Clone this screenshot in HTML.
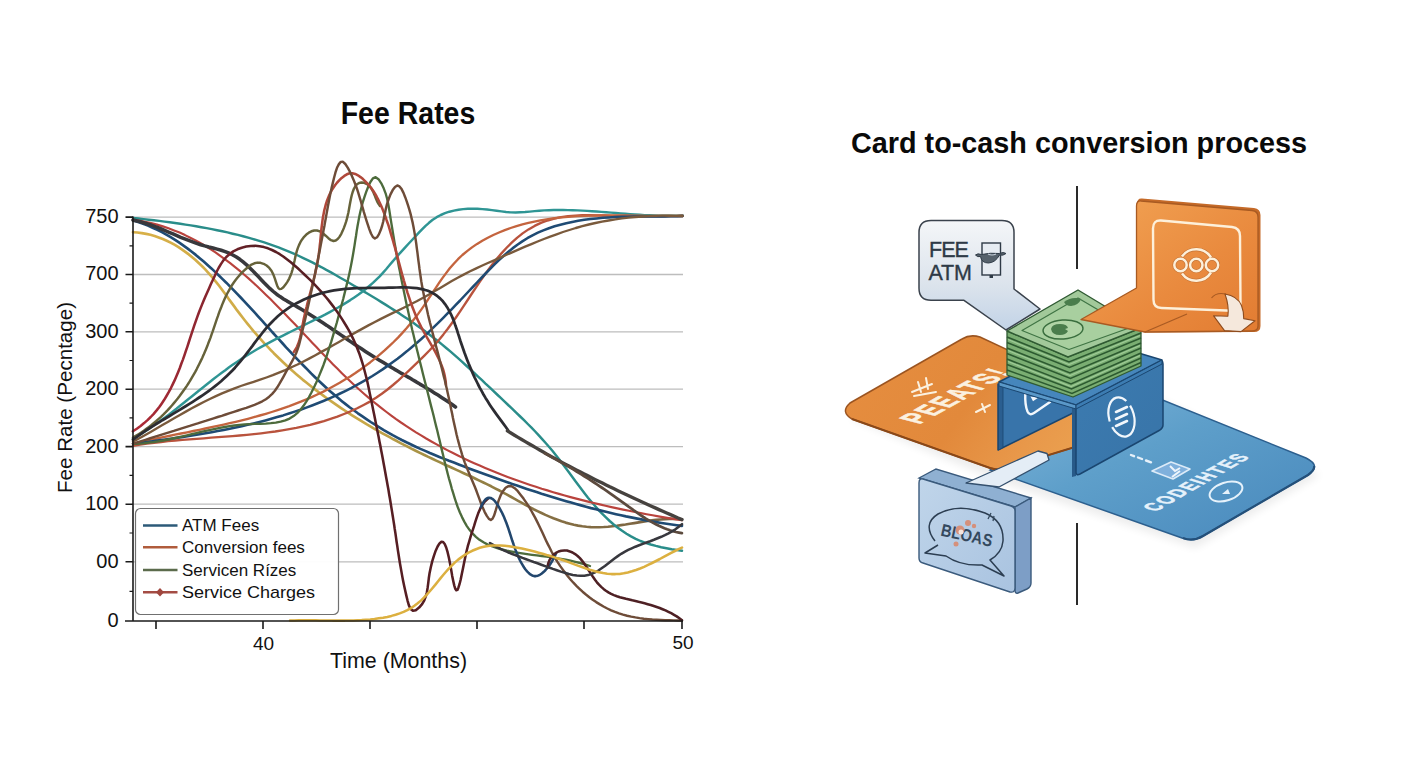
<!DOCTYPE html>
<html><head><meta charset="utf-8"><style>
html,body{margin:0;padding:0;background:#fff;width:1408px;height:768px;overflow:hidden}
svg{display:block}
text{font-family:"Liberation Sans",sans-serif}
</style></head><body>
<svg width="1408" height="768" viewBox="0 0 1408 768">
<defs>
<linearGradient id="gyel" gradientUnits="userSpaceOnUse" x1="133" y1="0" x2="682" y2="0"><stop offset="0" stop-color="#d8b048"/><stop offset="0.42" stop-color="#c8a848"/><stop offset="0.56" stop-color="#9c8a44"/><stop offset="0.75" stop-color="#867044"/><stop offset="1" stop-color="#7a6242"/></linearGradient>
<linearGradient id="gmar" gradientUnits="userSpaceOnUse" x1="133" y1="0" x2="682" y2="0"><stop offset="0" stop-color="#b02c38"/><stop offset="0.12" stop-color="#8e2630"/><stop offset="0.22" stop-color="#5a1f24"/><stop offset="1" stop-color="#4e1c20"/></linearGradient>
</defs>
<rect width="1408" height="768" fill="#fff"/>
<!-- ============ LEFT CHART ============ -->
<text transform="translate(408,124.2) scale(1,1.12)" font-size="28.5" font-weight="700" text-anchor="middle" fill="#0a0a0a">Fee Rates</text>
<!-- gridlines -->
<g stroke="#bdbdbd" stroke-width="1.3">
<line x1="133" y1="217.1" x2="683" y2="217.1"/>
<line x1="133" y1="274.5" x2="683" y2="274.5"/>
<line x1="133" y1="331.8" x2="683" y2="331.8"/>
<line x1="133" y1="389.2" x2="683" y2="389.2"/>
<line x1="133" y1="446.6" x2="683" y2="446.6"/>
<line x1="133" y1="504.2" x2="683" y2="504.2"/>
<line x1="133" y1="561.8" x2="683" y2="561.8"/>
</g>
<!-- y labels -->
<g font-size="20" text-anchor="end" fill="#111">
<text x="118.6" y="223.0">750</text>
<text x="118.6" y="280.4">700</text>
<text x="118.6" y="337.7">300</text>
<text x="118.6" y="395.1">200</text>
<text x="118.6" y="452.5">200</text>
<text x="118.6" y="510.1">100</text>
<text x="118.6" y="567.7">00</text>
<text x="118.6" y="626.7">0</text>
</g>
<text transform="translate(72,397.5) rotate(-90)" font-size="20.6" text-anchor="middle" fill="#111">Fee Rate (Pecntage)</text>
<!-- CURVES -->
<g id="curves" fill="none" stroke-width="2.2" stroke-linecap="round" stroke-linejoin="round">
<path d="M133.0 232.2L137.4 232.5L141.8 233.1L146.2 233.9L150.4 234.8L154.6 236.0L158.7 237.4L162.8 239.0L166.7 240.7L170.6 242.6L174.4 244.7L178.1 246.9L181.8 249.3L185.3 251.8L188.8 254.4L192.2 257.2L195.5 260.0L198.7 263.0L201.9 266.0L205.0 269.2L207.9 272.4L210.8 275.7L213.6 279.0L216.4 282.4L219.1 285.8L221.7 289.3L224.3 292.8L226.9 296.3L229.4 299.9L232.0 303.4L234.6 306.9L237.1 310.4L239.8 313.9L242.4 317.3L245.1 320.7L247.8 324.1L250.6 327.5L253.3 330.8L256.2 334.1L259.0 337.4L261.9 340.6L264.8 343.8L267.8 346.9L270.8 350.1L273.8 353.2L276.9 356.2L280.0 359.3L283.1 362.3L286.3 365.2L289.5 368.2L292.7 371.1L296.0 373.9L299.3 376.8L302.6 379.6L306.0 382.3L309.4 385.0L312.8 387.7L316.3 390.4L319.7 393.0L323.3 395.6L326.8 398.2L330.3 400.7L333.9 403.2L337.5 405.7L341.1 408.1L344.8 410.5L348.4 412.9L352.1 415.3L355.8 417.6L359.5 419.9L363.2 422.1L366.9 424.4L370.7 426.6L374.4 428.8L378.2 430.9L382.0 433.1L385.8 435.2L389.6 437.2L393.4 439.3L397.3 441.3L401.1 443.4L405.0 445.4L408.9 447.3L412.7 449.3L416.6 451.2L420.5 453.1L424.4 455.0L428.3 456.9L432.3 458.7L436.2 460.6L440.1 462.4L444.0 464.2L448.0 466.0L451.9 467.8L455.9 469.6L459.8 471.4L463.7 473.2L467.7 475.0L471.6 476.8L475.5 478.7L479.4 480.6L483.4 482.5L487.3 484.4L491.2 486.3L495.0 488.3L498.9 490.3L502.7 492.3L506.6 494.4L510.4 496.5L514.2 498.7L518.1 500.8L521.9 502.9L525.8 505.1L529.7 507.1L533.6 509.2L537.5 511.1L541.5 513.0L545.4 514.9L549.4 516.6L553.4 518.3L557.5 519.8L561.5 521.3L565.6 522.6L569.8 523.7L573.9 524.7L578.1 525.6L582.3 526.3L586.5 526.8L590.8 527.1L595.0 527.2L599.3 527.2L603.7 527.0L608.0 526.7L612.4 526.2L616.8 525.7L621.1 525.1L625.5 524.5L629.9 523.8L634.3 523.1L638.7 522.4L643.1 521.7L647.5 521.0L651.9 520.4L656.2 519.9L660.6 519.5L664.9 519.1L669.2 518.9L673.5 518.8L677.7 518.9L681.9 519.2" stroke="url(#gyel)" stroke-width="2.65"/>
<path d="M133.1 217.9L138.3 218.5L143.5 219.1L148.7 219.7L153.9 220.3L159.2 220.9L164.5 221.6L169.7 222.3L175.0 223.0L180.3 223.8L185.5 224.6L190.8 225.4L196.1 226.3L201.3 227.2L206.6 228.1L211.8 229.1L217.1 230.2L222.3 231.3L227.5 232.4L232.7 233.7L237.9 234.9L243.1 236.2L248.2 237.6L253.3 239.1L258.4 240.6L263.5 242.2L268.5 243.9L273.5 245.6L278.5 247.4L283.4 249.3L288.3 251.3L293.2 253.4L298.0 255.5L302.8 257.8L307.6 260.1L312.3 262.4L317.0 264.9L321.7 267.3L326.3 269.9L331.0 272.4L335.6 275.0L340.2 277.7L344.8 280.3L349.4 283.0L354.0 285.7L358.6 288.4L363.2 291.1L367.7 293.8L372.3 296.5L376.9 299.3L381.4 302.1L385.9 304.9L390.4 307.7L394.9 310.6L399.4 313.4L403.8 316.4L408.2 319.3L412.6 322.3L416.9 325.4L421.2 328.5L425.5 331.6L429.7 334.8L433.9 338.0L438.1 341.3L442.2 344.6L446.2 348.0L450.3 351.4L454.3 354.9L458.3 358.4L462.2 361.9L466.1 365.5L470.0 369.0L473.9 372.7L477.8 376.3L481.7 379.9L485.5 383.6L489.4 387.2L493.3 390.9L497.1 394.5L501.0 398.2L504.9 401.8L508.7 405.5L512.6 409.1L516.4 412.8L520.2 416.5L524.0 420.2L527.8 424.0L531.5 427.7L535.2 431.5L538.8 435.4L542.4 439.3L545.9 443.2L549.4 447.2L552.8 451.2L556.1 455.4L559.3 459.5L562.5 463.7L565.7 467.9L568.9 472.2L572.0 476.5L575.1 480.8L578.3 485.0L581.5 489.3L584.7 493.5L588.0 497.7L591.4 501.8L594.9 505.8L598.4 509.8L602.1 513.7L605.9 517.4L609.7 521.0L613.7 524.5L617.8 527.7L622.1 530.8L626.5 533.7L631.0 536.4L635.7 538.8L640.5 541.0L645.5 542.9L650.7 544.5L655.9 545.9L661.2 547.2L666.5 548.2L671.7 549.2L676.9 550.0L682.0 550.8" stroke="#2a8d8a" stroke-width="2.45"/>
<path d="M133.2 220.5L138.2 222.1L143.1 223.8L147.9 225.6L152.6 227.7L157.3 229.8L161.9 232.2L166.3 234.6L170.7 237.2L175.1 239.9L179.3 242.7L183.5 245.6L187.7 248.6L191.8 251.7L195.8 254.9L199.7 258.2L203.7 261.5L207.5 264.9L211.4 268.4L215.1 271.9L218.9 275.5L222.6 279.1L226.3 282.7L229.9 286.4L233.6 290.1L237.2 293.8L240.7 297.5L244.3 301.3L247.8 305.1L251.3 308.9L254.8 312.7L258.3 316.6L261.8 320.4L265.3 324.3L268.8 328.1L272.2 332.0L275.7 335.8L279.2 339.6L282.7 343.5L286.1 347.3L289.7 351.1L293.2 354.9L296.7 358.6L300.3 362.3L303.9 366.0L307.5 369.7L311.1 373.4L314.8 377.0L318.5 380.5L322.2 384.0L326.0 387.5L329.8 390.9L333.7 394.3L337.6 397.6L341.6 400.9L345.6 404.1L349.6 407.2L353.8 410.3L357.9 413.3L362.1 416.2L366.4 419.1L370.7 422.0L375.0 424.7L379.4 427.4L383.8 430.1L388.2 432.6L392.7 435.2L397.3 437.6L401.8 440.0L406.4 442.3L411.1 444.5L415.7 446.7L420.4 448.9L425.2 450.9L429.9 453.0L434.7 455.0L439.4 456.9L444.2 458.9L449.0 460.8L453.9 462.6L458.7 464.5L463.5 466.3L468.4 468.2L473.2 470.0L478.1 471.8L482.9 473.5L487.8 475.3L492.7 477.1L497.5 478.8L502.4 480.5L507.3 482.2L512.1 483.9L517.0 485.6L521.9 487.3L526.8 488.9L531.7 490.5L536.6 492.1L541.5 493.7L546.5 495.2L551.4 496.8L556.3 498.3L561.2 499.7L566.2 501.2L571.1 502.6L576.1 504.0L581.1 505.4L586.0 506.7L591.0 508.1L596.0 509.3L601.0 510.6L606.0 511.8L611.0 513.0L616.0 514.2L621.0 515.3L626.0 516.4L631.1 517.4L636.1 518.4L641.2 519.4L646.2 520.4L651.3 521.3L656.4 522.1L661.5 523.0L666.6 523.8L671.7 524.5L676.8 525.2L682.0 525.9" stroke="#1f4b74" stroke-width="2.65"/>
<path d="M132.7 219.6L138.9 220.5L145.0 221.7L151.1 223.1L157.0 224.6L162.8 226.4L168.5 228.3L174.1 230.4L179.6 232.6L185.0 235.1L190.3 237.7L195.6 240.4L200.7 243.3L205.8 246.3L210.8 249.4L215.8 252.7L220.6 256.1L225.4 259.6L230.2 263.2L234.8 266.8L239.5 270.6L244.0 274.5L248.5 278.4L253.0 282.5L257.4 286.5L261.8 290.7L266.1 294.9L270.4 299.1L274.7 303.4L278.9 307.7L283.2 312.0L287.4 316.4L291.5 320.7L295.7 325.1L299.8 329.5L304.0 333.9L308.1 338.3L312.2 342.7L316.4 347.1L320.5 351.4L324.7 355.8L328.9 360.1L333.1 364.4L337.3 368.6L341.6 372.9L345.8 377.0L350.2 381.2L354.5 385.2L358.9 389.3L363.4 393.2L367.9 397.1L372.5 401.0L377.1 404.7L381.8 408.4L386.5 412.0L391.3 415.6L396.1 419.1L401.0 422.5L406.0 425.8L411.0 429.1L416.0 432.3L421.1 435.4L426.2 438.5L431.4 441.5L436.6 444.4L441.9 447.3L447.2 450.1L452.5 452.8L457.9 455.5L463.3 458.1L468.7 460.7L474.2 463.2L479.7 465.6L485.2 468.0L490.8 470.3L496.3 472.6L501.9 474.8L507.6 476.9L513.2 479.0L518.9 481.0L524.5 483.0L530.2 484.9L535.9 486.8L541.7 488.7L547.4 490.4L553.2 492.2L559.0 493.9L564.7 495.5L570.5 497.1L576.3 498.6L582.2 500.1L588.0 501.6L593.8 503.0L599.7 504.4L605.5 505.8L611.4 507.1L617.3 508.4L623.1 509.6L629.0 510.8L634.9 512.0L640.7 513.1L646.6 514.2L652.5 515.3L658.4 516.4L664.2 517.4L670.1 518.4L676.0 519.4L681.9 520.3" stroke="#b9433d" stroke-width="2.15"/>
<path d="M133.0 220.0L137.2 220.9L141.3 222.0L145.4 223.2L149.4 224.5L153.4 225.9L157.4 227.4L161.3 229.0L165.2 230.6L169.1 232.3L173.0 233.9L176.9 235.6L180.7 237.3L184.7 238.9L188.6 240.4L192.6 241.9L196.6 243.4L200.6 244.7L204.7 245.9L208.8 247.0L213.0 248.0L217.1 249.1L221.2 250.3L225.2 251.6L229.1 253.2L232.8 255.0L236.4 257.0L239.8 259.3L243.1 261.9L246.3 264.6L249.4 267.4L252.4 270.4L255.3 273.5L258.3 276.6L261.2 279.7L264.1 282.8L267.1 285.8L270.1 288.7L273.3 291.5L276.6 294.2L280.0 296.6L283.5 298.9L287.1 301.1L290.8 303.2L294.5 305.3L298.1 307.4L301.8 309.5L305.4 311.7L309.0 313.9L312.6 316.2L316.1 318.5L319.7 320.8L323.2 323.1L326.8 325.4L330.3 327.8L333.8 330.2L337.3 332.5L340.8 334.9L344.3 337.3L347.8 339.7L351.3 342.1L354.8 344.4L358.3 346.8L361.9 349.1L365.4 351.4L369.0 353.7L372.6 356.0L376.2 358.2L379.8 360.4L383.4 362.6L387.0 364.8L390.7 366.9L394.3 369.1L398.0 371.2L401.6 373.4L405.3 375.5L409.0 377.6L412.6 379.8L416.3 381.9L419.9 384.1L423.6 386.2L427.2 388.4L430.8 390.6L434.4 392.9L438.0 395.1L441.5 397.4L445.1 399.8L448.6 402.1L452.1 404.5L455.5 407.0" stroke="#38383c" stroke-width="3.55"/>
<path d="M133.0 438.5L137.2 436.1L141.3 433.7L145.3 431.1L149.3 428.5L153.3 425.8L157.2 423.1L161.1 420.3L165.0 417.5L168.8 414.6L172.6 411.7L176.4 408.8L180.1 405.8L183.9 402.8L187.6 399.8L191.4 396.8L195.1 393.8L198.8 390.8L202.6 387.8L206.3 384.8L210.1 381.8L213.8 378.8L217.6 375.9L221.4 373.0L225.3 370.2L229.1 367.3L233.0 364.6L236.9 361.9L240.9 359.2L244.9 356.6L248.9 354.1L253.0 351.7L257.1 349.3L261.3 346.9L265.5 344.6L269.7 342.4L273.9 340.1L278.2 337.9L282.5 335.8L286.8 333.6L291.1 331.5L295.4 329.4L299.7 327.3L304.0 325.2L308.3 323.0L312.6 320.9L316.9 318.7L321.2 316.6L325.5 314.4L329.7 312.1L333.9 309.8L338.1 307.5L342.2 305.1L346.3 302.6L350.3 300.1L354.3 297.4L358.2 294.7L362.0 291.9L365.7 289.0L369.3 286.0L372.9 282.9L376.3 279.6L379.7 276.3L382.9 272.8L386.1 269.2L389.2 265.5L392.3 261.9L395.4 258.2L398.6 254.6L401.8 251.1L405.0 247.6L408.3 244.0L411.6 240.5L415.0 236.8L418.4 233.2L421.8 229.6L425.3 226.1L429.0 222.8L432.7 219.8L436.7 217.2L440.8 215.0L445.0 213.2L449.4 211.7L453.9 210.6L458.5 209.7L463.1 209.1L467.9 208.8L472.6 208.7L477.4 208.8L482.3 209.1L487.1 209.5L491.9 210.1L496.6 210.7L501.4 211.4L506.1 212.0L510.9 212.4L515.6 212.5L520.3 212.3L525.1 212.0L529.8 211.6L534.6 211.1L539.4 210.7L544.1 210.4L548.9 210.2L553.6 210.0L558.4 210.0L563.2 210.0L568.0 210.1L572.7 210.2L577.5 210.4L582.3 210.6L587.1 210.9L591.8 211.2L596.6 211.5L601.4 211.9L606.2 212.3L611.0 212.6L615.8 213.0L620.5 213.4L625.3 213.8L630.1 214.2L634.9 214.5L639.7 214.8L644.5 215.1L649.2 215.3L654.0 215.5L658.8 215.7L663.6 215.8L668.4 215.8L673.1 215.7L677.9 215.6L682.7 215.4" stroke="#2f9594" stroke-width="2.45"/>
<path d="M133.0 445.8L140.0 444.7L147.0 443.7L154.0 442.8L161.1 442.0L168.1 441.2L175.2 440.5L182.4 439.9L189.5 439.3L196.6 438.8L203.8 438.3L211.0 437.7L218.1 437.2L225.3 436.7L232.5 436.1L239.6 435.5L246.8 434.8L253.9 434.1L261.1 433.3L268.2 432.4L275.2 431.5L282.3 430.4L289.3 429.2L296.3 427.9L303.2 426.4L310.2 424.8L317.0 423.0L323.9 421.1L330.6 418.9L337.4 416.6L344.0 414.0L350.6 411.3L357.2 408.3L363.6 405.0L369.9 401.6L376.0 397.8L381.8 393.8L387.5 389.5L393.0 385.0L398.4 380.3L403.6 375.5L408.9 370.6L414.1 365.7L419.3 360.7L424.4 355.6L429.4 350.5L434.3 345.2L438.9 339.9L443.4 334.4L447.8 328.7L452.0 323.0L456.1 317.2L460.1 311.3L464.1 305.4L468.0 299.5L471.9 293.5L475.9 287.6L479.9 281.6L484.0 275.8L488.2 270.0L492.5 264.2L497.0 258.6L501.7 253.1L506.6 247.8L511.7 242.6L517.0 237.8L522.6 233.4L528.5 229.4L534.6 225.9L540.9 222.9L547.5 220.5L554.3 218.6L561.1 217.2L568.1 216.2L575.3 215.6L582.4 215.2L589.7 215.2L596.9 215.3L604.2 215.5L611.4 215.8L618.6 216.0L625.7 216.2L632.8 216.3L639.8 216.4L646.8 216.4L653.8 216.3L660.9 216.3L668.1 216.2L675.3 216.1L682.7 216.0" stroke="#b9533d" stroke-width="2.35"/>
<path d="M133.1 443.7L139.0 442.4L144.9 441.0L150.9 439.7L156.9 438.5L163.0 437.2L169.0 436.0L175.0 434.7L181.1 433.5L187.2 432.3L193.3 431.0L199.4 429.8L205.4 428.5L211.5 427.2L217.6 425.9L223.7 424.6L229.7 423.2L235.8 421.8L241.8 420.3L247.9 418.8L253.9 417.2L259.8 415.5L265.8 413.8L271.7 412.0L277.6 410.1L283.5 408.1L289.3 406.1L295.1 403.9L300.8 401.7L306.5 399.3L312.2 396.9L317.8 394.3L323.4 391.6L328.8 388.8L334.3 385.8L339.7 382.8L345.0 379.6L350.2 376.4L355.4 373.0L360.5 369.5L365.5 365.9L370.4 362.2L375.2 358.4L380.0 354.4L384.6 350.4L389.2 346.2L393.6 342.0L398.0 337.6L402.2 333.1L406.3 328.5L410.3 323.8L414.2 319.0L418.0 314.1L421.6 309.1L425.2 303.9L428.6 298.7L432.0 293.5L435.5 288.3L438.9 283.2L442.4 278.1L446.1 273.1L449.8 268.3L453.8 263.7L458.0 259.2L462.4 255.0L467.1 251.1L472.0 247.4L477.1 243.9L482.3 240.7L487.8 237.7L493.3 235.0L499.0 232.5L504.8 230.1L510.6 228.0L516.5 226.1L522.4 224.4L528.4 222.9L534.4 221.6L540.5 220.4L546.6 219.3L552.7 218.5L558.9 217.7L565.0 217.1L571.2 216.6L577.5 216.2L583.7 215.9L589.9 215.7L596.2 215.5L602.4 215.4L608.7 215.4L614.9 215.4L621.2 215.5L627.4 215.5L633.6 215.6L639.8 215.7L646.0 215.8L652.2 215.9L658.3 216.0L664.4 216.0L670.5 215.9L676.6 215.9L682.5 215.7" stroke="#c4643e" stroke-width="2.35"/>
<path d="M133.0 443.7L139.0 443.0L145.1 442.2L151.1 441.4L157.2 440.6L163.3 439.8L169.3 438.9L175.4 438.1L181.4 437.2L187.5 436.2L193.5 435.3L199.6 434.3L205.6 433.3L211.6 432.2L217.7 431.1L223.7 429.9L229.7 428.7L235.7 427.5L241.7 426.2L247.6 424.8L253.6 423.4L259.5 421.9L265.4 420.4L271.3 418.8L277.2 417.1L283.1 415.4L288.9 413.5L294.7 411.6L300.5 409.7L306.3 407.6L312.0 405.5L317.7 403.3L323.4 401.0L329.0 398.6L334.6 396.1L340.1 393.5L345.7 390.8L351.1 388.1L356.5 385.2L361.9 382.2L367.2 379.2L372.4 376.0L377.5 372.7L382.6 369.4L387.6 365.9L392.6 362.3L397.5 358.7L402.3 354.9L407.1 351.1L411.7 347.2L416.4 343.2L421.0 339.2L425.5 335.1L429.9 330.9L434.3 326.7L438.7 322.4L443.0 318.1L447.3 313.7L451.6 309.3L455.8 304.9L460.1 300.5L464.3 296.0L468.5 291.5L472.8 287.0L477.0 282.5L481.3 278.0L485.6 273.5L489.9 269.1L494.3 264.7L498.7 260.4L503.2 256.3L507.8 252.3L512.5 248.4L517.4 244.8L522.3 241.4L527.3 238.2L532.5 235.3L537.9 232.7L543.3 230.4L548.9 228.2L554.6 226.3L560.4 224.7L566.3 223.2L572.2 221.9L578.2 220.8L584.3 219.8L590.5 219.0L596.7 218.4L602.9 217.8L609.1 217.4L615.4 217.1L621.7 216.8L627.9 216.7L634.2 216.5L640.4 216.5L646.6 216.4L652.8 216.4L658.9 216.4L664.9 216.4L670.9 216.3L676.8 216.2L682.6 216.1" stroke="#1f4b74" stroke-width="2.55"/>
<path d="M133.0 441.7L138.9 438.5L144.8 435.2L150.6 431.9L156.5 428.5L162.4 425.1L168.2 421.7L174.1 418.3L179.9 414.9L185.8 411.6L191.8 408.3L197.7 405.1L203.7 402.0L209.8 399.0L215.9 396.1L222.0 393.4L228.2 390.8L234.5 388.3L240.8 386.0L247.2 383.9L253.7 381.8L260.1 379.7L266.4 377.5L272.8 375.2L279.0 372.7L285.2 370.1L291.4 367.3L297.5 364.5L303.5 361.5L309.5 358.4L315.4 355.2L321.3 351.9L327.2 348.7L333.1 345.3L339.0 342.0L344.8 338.6L350.7 335.2L356.6 331.9L362.5 328.6L368.4 325.4L374.4 322.2L380.4 319.1L386.4 316.1L392.5 313.1L398.6 310.2L404.7 307.2L410.7 304.2L416.7 301.2L422.7 298.0L428.6 294.7L434.4 291.3L440.2 287.9L446.0 284.4L451.8 281.0L457.7 277.7L463.6 274.6L469.6 271.5L475.7 268.6L481.8 265.8L487.9 263.0L494.1 260.3L500.3 257.6L506.5 254.8L512.7 252.1L518.9 249.4L525.1 246.7L531.4 244.1L537.6 241.5L543.9 239.0L550.2 236.6L556.6 234.3L563.0 232.0L569.4 230.0L575.8 228.0L582.3 226.2L588.8 224.5L595.4 223.0L602.0 221.7L608.6 220.5L615.3 219.4L621.9 218.4L628.6 217.6L635.4 217.0L642.1 216.5L648.8 216.1L655.6 215.8L662.4 215.7L669.2 215.7L675.9 215.8L682.7 216.0" stroke="#7a5a3c" stroke-width="2.35"/>
<path d="M133.0 444.0L138.3 443.7L143.5 443.3L148.5 442.7L153.6 442.1L158.5 441.3L163.4 440.5L168.2 439.5L173.0 438.5L177.7 437.5L182.4 436.4L187.1 435.3L191.7 434.2L196.4 433.1L201.1 431.9L205.8 430.9L210.5 429.8L215.2 428.8L219.9 427.8L224.8 427.0L229.6 426.2L234.5 425.5L239.5 424.9L244.6 424.4L249.8 424.1L255.0 423.9L260.3 423.8L265.6 423.6L270.8 423.2L275.8 422.7L280.7 421.7L285.3 420.4L289.6 418.6L293.6 416.1L297.2 413.1L300.5 409.7L303.5 405.8L306.3 401.7L308.9 397.3L311.3 392.8L313.6 388.2L315.8 383.6L317.8 379.0L319.7 374.4L321.6 369.8L323.4 365.2L325.1 360.5L326.7 355.9L328.2 351.2L329.7 346.5L331.2 341.9L332.6 337.1L334.0 332.4L335.3 327.7L336.7 323.0L338.0 318.2L339.3 313.4L340.6 308.6L341.9 303.8L343.2 299.0L344.4 294.1L345.6 289.3L346.8 284.4L348.0 279.6L349.1 274.7L350.1 269.9L351.1 265.0L352.0 260.2L352.9 255.3L353.7 250.5L354.5 245.6L355.2 240.8L356.0 236.0L356.7 231.1L357.5 226.3L358.4 221.4L359.3 216.5L360.4 211.6L361.6 206.7L362.9 201.8L364.5 196.8L366.2 191.9L368.2 186.8L370.4 182.0L372.9 178.3L375.6 177.2L378.5 179.2L381.3 183.3L383.7 188.3L385.6 193.3L387.0 198.3L388.1 203.3L389.0 208.2L389.8 213.1L390.5 218.0L391.3 222.9L392.1 227.8L392.9 232.7L393.7 237.5L394.5 242.4L395.4 247.3L396.2 252.2L397.1 257.0L398.0 261.9L398.9 266.7L399.9 271.6L400.8 276.4L401.8 281.3L402.8 286.1L403.8 291.0L404.8 295.8L405.8 300.7L406.8 305.5L407.9 310.3L409.0 315.2L410.0 320.0L411.1 324.8L412.2 329.7L413.4 334.5L414.5 339.3L415.7 344.2L416.8 349.0L418.0 353.8L419.2 358.7L420.4 363.5L421.6 368.3L422.8 373.2L424.0 378.0L425.2 382.8L426.5 387.6L427.7 392.5L428.9 397.3L430.1 402.1L431.3 406.9L432.6 411.7L433.8 416.5L434.9 421.3L436.1 426.1L437.3 430.8L438.4 435.6L439.6 440.4L440.7 445.1L441.8 449.9L443.0 454.6L444.1 459.4L445.3 464.2L446.5 468.9L447.7 473.7L449.0 478.6L450.4 483.4L451.7 488.3L453.2 493.2L454.7 498.1L456.3 503.0L458.0 507.8L459.9 512.5L462.0 517.1L464.3 521.6L466.7 525.8L469.5 529.8L472.5 533.4L475.9 536.8L479.5 539.8L483.5 542.3L487.8 544.6L492.4 546.5L497.2 548.1L502.0 549.5L507.0 550.7L512.1 551.7L517.1 552.6L522.1 553.4L527.1 554.1L532.0 554.8L536.8 555.4L541.7 556.0L546.5 556.7L551.3 557.3L556.1 558.1L560.9 558.8L565.7 559.7L570.5 560.7L575.3 561.8L580.2 563.0L585.1 564.4L590.0 566.0" stroke="#4d6b3c" stroke-width="2.35"/>
<path d="M133.0 437.6L135.8 435.9L138.5 434.2L141.2 432.5L143.8 430.7L146.4 428.8L149.0 426.9L151.5 425.0L153.9 423.0L156.3 421.0L158.7 418.9L161.0 416.8L163.3 414.6L165.5 412.4L167.7 410.1L169.8 407.8L171.9 405.5L173.9 403.1L175.9 400.7L177.9 398.3L179.8 395.8L181.6 393.3L183.4 390.8L185.2 388.2L187.0 385.6L188.7 383.0L190.3 380.3L191.9 377.6L193.5 374.9L195.1 372.1L196.6 369.3L198.0 366.5L199.4 363.7L200.8 360.9L202.2 358.0L203.5 355.1L204.7 352.2L206.0 349.2L207.2 346.3L208.3 343.3L209.5 340.3L210.6 337.3L211.6 334.3L212.7 331.3L213.7 328.3L214.8 325.2L215.8 322.2L216.8 319.2L217.9 316.2L218.9 313.2L220.0 310.2L221.2 307.3L222.3 304.4L223.5 301.5L224.8 298.6L226.1 295.8L227.5 293.0L229.0 290.3L230.5 287.6L232.1 285.0L233.8 282.5L235.6 280.0L237.6 277.5L239.6 275.2L241.7 272.9L244.0 270.6L246.4 268.5L248.9 266.4L251.5 264.6L254.4 263.3L257.4 262.6L260.5 262.8L263.6 263.8L266.6 265.5L269.3 267.9L271.6 271.0L273.4 274.6L274.8 278.4L276.0 282.1L277.1 285.4L278.2 287.8L279.6 289.1L281.3 288.9L283.4 287.2L285.5 284.6L287.5 281.6L289.2 278.6L290.5 275.6L291.6 272.6L292.5 269.6L293.3 266.6L293.9 263.6L294.6 260.5L295.2 257.4L296.0 254.2L296.8 251.1L297.8 248.1L299.0 245.1L300.4 242.2L302.1 239.4L304.1 236.8L306.3 234.6L308.8 232.7L311.4 231.3L314.2 230.5L317.0 230.5L319.9 231.4L322.8 233.2L325.7 235.7L328.4 238.2L331.0 240.2L333.5 241.0L335.7 240.5L337.7 239.0L339.6 236.7L341.3 233.8L342.8 230.6L344.1 227.4L345.2 224.3L346.2 221.4L347.0 218.4L347.7 215.5L348.4 212.4L349.0 209.2L349.6 205.7L350.3 202.1L351.0 198.5L351.8 195.0L352.8 191.7L353.9 188.8L355.3 186.3L357.0 184.3L359.1 183.0L361.5 182.5L364.2 182.8L367.0 184.0L369.4 185.9L371.4 188.6L373.1 191.6L374.5 194.9L375.8 198.2L377.1 201.3L378.5 203.9L380.0 206.0" stroke="#66623a" stroke-width="2.45"/>
<path d="M293.9 351.9L295.6 349.3L297.1 346.5L298.3 343.6L299.3 340.7L300.1 337.6L300.8 334.5L301.5 331.4L302.0 328.2L302.6 325.1L303.2 321.9L303.8 318.8L304.5 315.7L305.2 312.6L305.9 309.6L306.7 306.5L307.4 303.5L308.2 300.5L309.0 297.5L309.8 294.5L310.6 291.5L311.4 288.5L312.2 285.5L312.9 282.5L313.7 279.5L314.4 276.5L315.2 273.5L315.8 270.4L316.5 267.4L317.1 264.3L317.7 261.2L318.2 258.1L318.7 254.9L319.1 251.8L319.5 248.6L319.8 245.4L320.2 242.1L320.5 238.9L320.8 235.7L321.1 232.4L321.4 229.2L321.8 226.0L322.2 222.8L322.6 219.6L323.1 216.5L323.7 213.4L324.3 210.3L325.1 207.2L325.9 204.2L326.8 201.3L327.9 198.4L329.0 195.6L330.4 192.8L331.8 190.1L333.5 187.5L335.2 185.0L337.2 182.5L339.4 180.2L341.7 177.9L344.3 175.9L346.9 174.3L349.7 173.3L352.4 173.2L355.2 173.9L357.9 175.3L360.5 177.1L363.0 179.1L365.3 181.3L367.5 183.6L369.6 186.0L371.5 188.5L373.3 191.0L375.0 193.7L376.6 196.5L378.1 199.3L379.5 202.2L380.9 205.2L382.1 208.1L383.3 211.1L384.5 214.1L385.6 217.2L386.6 220.2L387.7 223.2L388.7 226.2L389.6 229.2L390.5 232.3L391.4 235.3L392.3 238.3L393.2 241.3L394.0 244.3L394.9 247.3L395.7 250.3L396.5 253.3L397.3 256.3L398.1 259.3L398.9 262.3L399.7 265.3L400.5 268.3L401.3 271.3L402.1 274.3L403.0 277.3L403.8 280.3L404.7 283.3L405.6 286.3L406.5 289.3L407.4 292.3L408.4 295.3L409.4 298.3L410.4 301.3L411.4 304.3L412.5 307.2L413.7 310.2L414.8 313.1L416.0 316.0L417.3 318.9L418.6 321.7L420.0 324.6L421.4 327.4L422.9 330.2L424.4 332.9L425.9 335.7L427.5 338.4L429.1 341.1L430.7 343.9L432.3 346.6L433.9 349.3L435.4 352.1L436.8 354.8L438.2 357.6L439.6 360.5L440.8 363.4L441.9 366.3L443.0 369.2L443.9 372.3L444.6 375.3L445.2 378.5L445.7 381.7L446.0 385.0" stroke="#b0483a" stroke-width="2.55"/>
<path d="M133.0 443.8L137.2 442.4L141.3 441.1L145.4 439.8L149.5 438.5L153.6 437.2L157.7 435.9L161.7 434.6L165.7 433.4L169.8 432.1L173.8 430.9L177.8 429.6L181.7 428.4L185.7 427.1L189.7 425.9L193.7 424.6L197.7 423.4L201.6 422.1L205.6 420.9L209.6 419.6L213.6 418.3L217.7 417.0L221.7 415.8L225.7 414.5L229.8 413.1L233.9 411.8L238.0 410.5L242.1 409.1L246.3 407.8L250.4 406.3L254.5 404.8L258.5 403.2L262.3 401.3L265.9 399.2L269.2 396.7L272.2 393.9L274.9 390.8L277.3 387.3L279.5 383.7L281.7 379.9L283.8 376.1L285.9 372.2L288.1 368.4L290.2 364.6L292.3 360.8L294.3 357.0L296.1 353.2L297.6 349.3L298.9 345.4L299.9 341.4L300.9 337.4L301.8 333.4L302.8 329.3L303.8 325.3L304.7 321.1L305.7 317.0L306.6 312.9L307.5 308.7L308.5 304.5L309.4 300.3L310.3 296.1L311.2 291.9L312.1 287.7L313.0 283.4L313.9 279.2L314.8 275.0L315.6 270.8L316.5 266.6L317.4 262.4L318.2 258.2L319.0 254.0L319.8 249.9L320.6 245.7L321.4 241.6L322.2 237.5L323.0 233.5L323.7 229.4L324.5 225.4L325.2 221.4L325.9 217.5L326.6 213.6L327.3 209.7L328.0 205.8L328.8 201.7L329.6 197.5L330.5 193.1L331.5 188.4L332.7 183.4L334.0 178.0L335.4 172.7L337.0 167.8L338.9 164.1L340.8 161.9L343.0 161.8L345.3 164.0L347.7 167.6L349.9 171.7L351.9 175.9L353.6 179.9L355.2 184.0L356.7 187.9L358.0 191.9L359.2 195.8L360.4 199.8L361.5 203.8L362.7 207.8L363.8 211.9L365.1 216.1L366.4 220.3L367.8 224.7L369.3 229.1L371.0 233.5L372.9 237.0L374.9 238.5L377.0 237.3L379.0 234.1L380.8 229.8L382.2 225.5L383.3 221.3L384.1 217.1L385.0 212.9L385.9 208.6L387.0 204.1L388.6 199.3L390.5 194.4L392.7 190.1L395.0 187.0L397.3 185.5L399.5 186.4L401.6 189.1L403.5 192.9L405.2 197.2L406.8 201.6L408.2 205.9L409.5 210.1L410.7 214.4L411.7 218.7L412.7 222.9L413.5 227.1L414.3 231.4L415.0 235.6L415.7 239.8L416.3 244.0L416.8 248.1L417.4 252.3L417.9 256.5L418.4 260.6L419.0 264.8L419.5 269.0L420.1 273.1L420.7 277.2L421.3 281.4L422.0 285.5L422.8 289.7L423.6 293.8L424.4 297.9L425.2 302.1L426.2 306.2L427.1 310.3L428.0 314.5L429.0 318.6L430.0 322.7L431.1 326.8L432.1 331.0L433.2 335.1L434.2 339.2L435.3 343.4L436.4 347.5L437.5 351.6L438.6 355.7L439.6 359.9L440.7 364.0L441.8 368.1L442.8 372.3L443.8 376.4L444.9 380.5L445.8 384.7L446.8 388.8L447.7 392.9L448.6 397.1L449.5 401.2L450.4 405.3L451.2 409.5L452.1 413.6L452.9 417.8L453.8 421.9L454.7 426.0L455.6 430.1L456.5 434.2L457.5 438.3L458.6 442.4L459.7 446.5L460.9 450.5L462.1 454.6L463.4 458.6L464.8 462.6L466.4 466.6L468.0 470.6L469.6 474.5L471.3 478.5L473.0 482.4L474.6 486.2L476.1 490.0L477.5 493.9L479.0 497.9L480.6 502.2L482.5 507.0L484.6 511.8L486.8 515.9L488.9 518.9L490.8 520.0L492.5 518.8L494.0 515.8L495.4 511.5L496.9 506.3L498.5 500.9L500.5 495.7L502.9 491.2L505.6 487.8L508.5 486.1L511.5 486.3L514.7 488.2L517.8 491.2L520.7 494.9L523.5 498.6L526.1 502.4L528.6 506.2L530.9 510.0L533.0 513.8L535.1 517.6L537.0 521.4L538.9 525.3L540.7 529.1L542.5 532.8L544.2 536.6L546.0 540.4L547.8 544.1L549.7 547.8L551.5 551.5L553.5 555.2L555.6 558.8L557.8 562.4L560.1 565.9L562.6 569.4L565.1 572.8L567.8 576.2L570.5 579.5L573.4 582.7L576.4 585.8L579.5 588.8L582.6 591.7L585.9 594.5L589.3 597.2L592.7 599.7L596.2 602.1L599.9 604.4L603.5 606.5L607.3 608.5L611.1 610.3L615.0 611.9L619.0 613.3L623.0 614.6L627.1 615.7L631.2 616.6L635.4 617.4L639.6 618.1L643.8 618.7L648.0 619.1L652.3 619.5L656.6 619.8L660.8 620.0L665.1 620.2L669.4 620.3L673.6 620.4L677.8 620.5L682.0 620.5" stroke="#6e4c38" stroke-width="2.45"/>
<path d="M132.9 431.3L136.8 428.7L140.6 426.0L144.1 423.1L147.5 420.1L150.7 417.0L153.7 413.8L156.6 410.4L159.3 407.0L161.8 403.4L164.2 399.8L166.5 396.0L168.7 392.2L170.8 388.3L172.7 384.4L174.6 380.4L176.4 376.3L178.1 372.2L179.8 368.0L181.3 363.8L182.9 359.6L184.4 355.3L185.8 351.1L187.3 346.8L188.7 342.5L190.1 338.2L191.5 333.9L192.9 329.6L194.3 325.4L195.8 321.1L197.3 316.9L198.8 312.8L200.4 308.6L202.0 304.6L203.7 300.5L205.4 296.4L207.2 292.4L209.0 288.4L210.8 284.3L212.7 280.3L214.6 276.2L216.5 272.0L218.6 268.0L220.9 264.1L223.4 260.4L226.3 257.0L229.6 254.0L233.3 251.4L237.4 249.3L241.7 247.7L246.2 246.6L250.8 245.9L255.2 245.8L259.6 246.2L263.9 247.1L268.0 248.3L272.0 250.0L276.0 252.0L279.8 254.2L283.6 256.7L287.2 259.5L290.8 262.3L294.3 265.3L297.8 268.3L301.1 271.4L304.4 274.5L307.7 277.6L310.9 280.7L314.0 283.9L317.0 287.1L320.0 290.4L322.9 293.6L325.8 297.0L328.6 300.4L331.3 303.9L334.0 307.4L336.6 311.0L339.1 314.6L341.6 318.4L344.0 322.2L346.3 326.0L348.6 329.9L350.7 333.9L352.7 337.9L354.6 342.0L356.4 346.0L358.0 350.2L359.6 354.3L361.0 358.5L362.3 362.7L363.6 367.0L364.7 371.2L365.8 375.5L366.9 379.8L367.9 384.2L368.8 388.5L369.7 392.9L370.6 397.2L371.5 401.6L372.4 406.0L373.3 410.4L374.2 414.8L375.1 419.2L375.9 423.6L376.8 428.0L377.7 432.4L378.6 436.8L379.4 441.2L380.3 445.6L381.1 450.0L382.0 454.4L382.8 458.8L383.6 463.2L384.4 467.6L385.2 472.0L386.0 476.4L386.8 480.8L387.6 485.2L388.4 489.6L389.1 494.0L389.9 498.4L390.6 502.7L391.3 507.1L392.0 511.4L392.7 515.8L393.4 520.1L394.1 524.5L394.7 528.8L395.4 533.1L396.0 537.4L396.6 541.7L397.3 546.1L397.9 550.4L398.6 554.8L399.3 559.2L400.0 563.6L400.8 568.1L401.6 572.6L402.4 577.1L403.3 581.7L404.3 586.4L405.3 591.1L406.4 595.9L407.6 600.8L408.9 605.4L410.6 609.0L412.9 610.8L415.8 610.2L419.1 607.6L422.1 604.1L424.3 600.4L425.8 596.4L426.9 592.3L427.6 587.9L428.2 583.3L428.8 578.3L429.6 572.9L430.8 567.2L432.2 561.4L433.9 555.8L435.7 550.7L437.6 546.5L439.5 543.4L441.4 541.8L443.1 542.0L444.7 544.0L446.2 547.5L447.6 552.2L448.9 557.8L450.1 563.8L451.2 569.9L452.2 575.9L453.3 581.2L454.3 585.6L455.3 588.8L456.3 590.3L457.4 589.9L458.4 587.7L459.5 584.2L460.7 579.5L461.8 574.1L463.0 568.2L464.2 562.2L465.4 556.4L466.6 551.0L467.8 546.2L469.1 541.8L470.3 537.7L471.5 533.7L472.8 529.9L474.1 525.9L475.3 521.8L476.7 517.6L478.2 513.3L480.0 509.2L482.1 505.2L484.8 501.6L488.0 498.5" stroke="url(#gmar)" stroke-width="2.55"/>
<path d="M480.9 507.3L482.5 503.6L484.2 501.0L485.8 499.1L487.4 498.1L489.1 497.7L490.7 498.0L492.3 498.8L493.8 500.0L495.3 501.7L496.7 503.5L498.1 505.6L499.4 507.8L500.6 510.1L501.8 512.3L502.9 514.6L503.9 516.8L504.8 519.0L505.7 521.2L506.5 523.3L507.3 525.5L508.1 527.7L508.8 529.9L509.5 532.0L510.2 534.2L510.9 536.4L511.6 538.6L512.3 540.8L513.1 543.0L513.8 545.2L514.6 547.4L515.4 549.6L516.3 551.9L517.2 554.2L518.2 556.4L519.2 558.7L520.3 561.0L521.5 563.2L522.8 565.4L524.1 567.5L525.5 569.5L527.1 571.3L528.7 573.0L530.4 574.4L532.2 575.5L534.1 576.1L536.0 576.1L537.9 575.7L539.9 574.8L541.8 573.5L543.8 571.8L545.6 570.0L547.4 567.9L549.1 565.7L550.7 563.4L552.1 561.2L553.4 558.9L554.5 556.9L555.3 555.0L556.0 553.3" stroke="#22476e" stroke-width="2.55"/>
<path d="M547.4 567.5L548.2 563.5L549.5 560.1L551.3 557.2L553.4 554.8L555.9 552.9L558.5 551.5L561.3 550.7L564.2 550.4L567.0 550.6L569.8 551.4L572.5 552.5L575.1 554.1L577.6 556.0L579.9 558.2L582.0 560.6L584.0 563.2L585.9 565.9L587.7 568.7L589.5 571.6L591.3 574.4L593.1 577.1L595.0 579.8L596.9 582.3L599.0 584.7L601.2 586.9L603.5 588.9L605.9 590.8L608.4 592.4L611.1 593.9L613.9 595.1L616.9 596.2L619.9 597.2L622.9 598.0L626.0 598.8L629.2 599.5L632.3 600.3L635.4 601.0L638.5 601.8L641.6 602.5L644.6 603.3L647.7 604.2L650.7 605.0L653.8 606.0L656.7 607.0L659.7 608.0L662.6 609.2L665.5 610.4L668.4 611.8L671.2 613.2L674.0 614.8L676.7 616.4L679.4 618.3L682.0 620.2" stroke="#4e2024" stroke-width="2.55"/>
<path d="M133.0 439.6L136.1 437.3L139.3 435.1L142.5 432.8L145.8 430.7L149.1 428.5L152.4 426.4L155.7 424.3L159.1 422.3L162.4 420.2L165.8 418.2L169.2 416.2L172.6 414.1L175.9 412.1L179.3 410.1L182.7 408.0L186.0 406.0L189.4 403.9L192.7 401.8L196.0 399.7L199.2 397.5L202.5 395.3L205.7 393.1L208.9 390.8L212.0 388.5L215.1 386.1L218.1 383.7L221.1 381.2L224.0 378.6L226.8 376.0L229.6 373.3L232.4 370.5L235.0 367.7L237.6 364.7L240.2 361.7L242.6 358.7L245.1 355.5L247.5 352.4L249.9 349.2L252.3 346.1L254.6 342.9L257.0 339.7L259.5 336.6L261.9 333.5L264.4 330.4L266.9 327.4L269.5 324.5L272.2 321.7L275.0 318.9L277.8 316.3L280.8 313.7L283.8 311.3L287.0 309.1L290.2 306.9L293.6 304.9L297.0 302.9L300.5 301.2L304.0 299.5L307.6 297.9L311.3 296.5L315.0 295.2L318.7 294.0L322.5 292.9L326.3 292.0L330.1 291.1L333.9 290.4L337.7 289.8L341.5 289.3L345.3 288.9L349.2 288.6L353.0 288.4L356.9 288.2L360.7 288.1L364.6 288.0L368.5 287.9L372.5 287.9L376.4 287.9L380.4 287.8L384.5 287.8L388.5 287.7L392.6 287.6L396.7 287.5L400.8 287.4L404.9 287.4L409.0 287.5L412.9 287.8L416.8 288.2L420.6 288.8L424.3 289.7L427.9 290.8L431.2 292.3L434.5 294.1L437.5 296.2L440.3 298.6L442.9 301.3L445.2 304.3L447.3 307.4L449.2 310.8L451.0 314.3L452.6 317.9L454.1 321.7L455.4 325.6L456.8 329.4L458.0 333.4L459.3 337.3L460.5 341.2L461.8 345.0L463.1 348.8L464.4 352.5L465.8 356.2L467.2 359.9L468.6 363.5L470.1 367.1L471.6 370.6L473.1 374.1L474.7 377.6L476.4 381.0L478.1 384.5L479.8 387.8L481.7 391.2L483.5 394.5L485.5 397.9L487.5 401.1L489.6 404.4L491.8 407.7L494.0 410.9L496.3 414.1L498.7 417.3L501.1 420.6L503.5 423.8L505.8 427.0L508.1 430.3" stroke="#2c2c32" stroke-width="2.75"/>
<path d="M507.4 430.8L510.9 433.0L514.5 435.2L518.1 437.4L521.7 439.5L525.3 441.6L528.9 443.7L532.5 445.8L536.1 447.9L539.7 450.0L543.3 452.0L547.0 454.1L550.6 456.1L554.3 458.1L557.9 460.1L561.6 462.1L565.3 464.1L568.9 466.0L572.6 468.0L576.3 469.9L580.0 471.8L583.7 473.7L587.4 475.6L591.2 477.5L594.9 479.4L598.6 481.2L602.4 483.1L606.1 484.9L609.8 486.8L613.6 488.6L617.4 490.4L621.1 492.2L624.9 494.0L628.7 495.7L632.4 497.5L636.2 499.3L640.0 501.0L643.8 502.7L647.6 504.5L651.4 506.2L655.2 507.9L659.0 509.6L662.8 511.3L666.7 513.0L670.5 514.6L674.3 516.3L678.1 518.0L682.0 519.6" stroke="#46423f" stroke-width="3.35"/>
<path d="M544.7 453.4L547.4 454.8L550.1 456.3L552.7 457.7L555.4 459.1L558.0 460.6L560.6 462.1L563.3 463.6L565.9 465.1L568.5 466.6L571.1 468.1L573.7 469.7L576.2 471.2L578.8 472.8L581.4 474.4L583.9 476.0L586.5 477.6L589.0 479.2L591.5 480.9L594.1 482.5L596.6 484.2L599.1 485.8L601.6 487.5L604.1 489.2L606.6 490.9L609.0 492.6L611.5 494.3L614.0 496.1L616.4 497.8L618.9 499.6L621.3 501.3L623.8 503.1L626.2 504.9L628.6 506.7L631.1 508.4L633.5 510.2L636.0 511.9L638.4 513.6L640.9 515.3L643.4 517.0L645.9 518.6L648.4 520.1L651.0 521.6L653.6 523.1L656.3 524.5L658.9 525.8L661.6 527.0L664.4 528.2L667.2 529.3L670.0 530.3L672.9 531.2L675.9 532.0L678.9 532.6L681.9 533.2" stroke="#5c4a3e" stroke-width="2.75"/>
<path d="M490.0 543.0L493.6 545.1L497.1 547.1L500.7 548.9L504.3 550.6L507.9 552.2L511.6 553.7L515.2 555.1L518.9 556.5L522.5 557.9L526.2 559.2L530.0 560.6L533.7 562.0L537.5 563.3L541.3 564.7L545.1 566.1L549.0 567.5L552.9 568.9L556.8 570.2L560.8 571.6L564.8 572.8L568.8 574.0L572.8 574.9L576.8 575.5L580.7 575.8L584.4 575.7L588.1 575.1L591.6 573.9L595.0 572.4L598.4 570.5L601.6 568.3L604.9 566.0L608.1 563.5L611.3 561.0L614.5 558.5L617.8 556.1L621.2 553.8L624.6 551.8L628.2 549.9L631.7 548.3L635.4 546.7L639.1 545.3L642.8 543.9L646.5 542.5L650.2 541.2L653.9 539.8L657.6 538.3L661.3 536.8L664.9 535.2L668.5 533.4L672.0 531.4L675.4 529.3L678.8 526.8L682.0 524.1" stroke="#38383e" stroke-width="2.55"/>
<path d="M290.0 620.5L294.4 620.4L298.8 620.3L303.1 620.3L307.3 620.3L311.6 620.3L315.8 620.3L320.0 620.4L324.2 620.5L328.4 620.5L332.5 620.6L336.7 620.6L340.8 620.6L345.0 620.6L349.1 620.5L353.3 620.4L357.5 620.2L361.7 620.0L365.9 619.7L370.2 619.4L374.5 618.9L378.8 618.3L383.1 617.7L387.3 616.9L391.5 615.9L395.6 614.7L399.7 613.4L403.6 611.9L407.3 610.1L411.0 608.1L414.4 605.8L417.7 603.3L420.9 600.6L423.9 597.7L426.8 594.6L429.6 591.5L432.4 588.2L435.2 584.9L437.9 581.5L440.6 578.1L443.4 574.8L446.2 571.5L449.0 568.3L452.0 565.3L455.0 562.4L458.2 559.6L461.6 557.1L465.0 554.8L468.5 552.7L472.2 550.8L476.0 549.2L479.8 547.8L483.8 546.8L487.9 546.0L492.0 545.6L496.2 545.4L500.4 545.5L504.7 545.8L509.0 546.2L513.3 546.9L517.6 547.7L521.9 548.6L526.2 549.6L530.4 550.6L534.5 551.6L538.6 552.7L542.6 553.8L546.6 555.0L550.6 556.1L554.6 557.4L558.5 558.7L562.5 560.0L566.5 561.4L570.5 562.9L574.5 564.4L578.5 565.9L582.6 567.3L586.7 568.7L590.8 570.1L594.9 571.2L599.0 572.3L603.1 573.1L607.2 573.7L611.4 574.1L615.5 574.1L619.6 573.9L623.7 573.3L627.8 572.4L631.9 571.3L636.0 570.0L640.1 568.5L644.1 566.8L648.1 564.9L652.1 563.0L656.0 561.0L659.9 559.0L663.7 556.9L667.5 554.9L671.2 552.9L674.9 551.0L678.5 549.2L682.0 547.6" stroke="#dcb040" stroke-width="2.55"/>
</g>
<!-- axes -->
<g stroke="#1a1a1a" stroke-width="1.6" fill="none">
<line x1="133" y1="216.5" x2="133" y2="621"/>
<line x1="125" y1="621" x2="683" y2="621"/>
<path d="M125.5 217.1H133M125.5 274.5H133M125.5 331.8H133M125.5 389.2H133M125.5 446.6H133M125.5 504.2H133M125.5 561.8H133"/>
<path d="M129.5 245.8H133M129.5 303.1H133M129.5 360.5H133M129.5 417.9H133M129.5 475.4H133M129.5 533.0H133M129.5 591.3H133" stroke-width="1.2"/>
<path d="M156 621V629M263 621V629M370 621V629M477 621V629M584 621V629M682 621V629"/>
</g>
<!-- legend -->
<rect x="135.5" y="508.5" width="203" height="106" rx="5" fill="#fff" fill-opacity="0.96" stroke="#707070" stroke-width="1.2"/>
<g stroke-width="2.4">
<line x1="143" y1="525.5" x2="177.5" y2="525.5" stroke="#2c5a78"/>
<line x1="143" y1="547.3" x2="177.5" y2="547.3" stroke="#b05c3c"/>
<line x1="143" y1="570" x2="177.5" y2="570" stroke="#5b6b4c"/>
<line x1="143" y1="592.3" x2="177.5" y2="592.3" stroke="#a44c44"/>
</g>
<path d="M160 588L164 592.3L160 596.6L156 592.3Z" fill="#a0463e"/>
<g font-size="17" fill="#111">
<text x="182" y="531">ATM Fees</text>
<text x="182" y="553">Conversion fees</text>
<text x="182" y="575.8">Servicen Rízes</text>
<text x="182" y="598" textLength="133" lengthAdjust="spacingAndGlyphs">Service Charges</text>
</g>
<!-- x labels -->
<g font-size="19" fill="#111" text-anchor="middle">
<text x="263.5" y="649.5">40</text>
<text x="683" y="649">50</text>
</g>
<text x="398.5" y="668" font-size="21.4" text-anchor="middle" fill="#111">Time (Months)</text>

<!-- ============ RIGHT ILLUSTRATION ============ -->
<text x="1079" y="153" font-size="28.8" font-weight="700" text-anchor="middle" fill="#0a0a0a">Card to-cash conversion process</text>
<defs>
<linearGradient id="gbcard" x1="0" y1="0" x2="1" y2="1"><stop offset="0" stop-color="#84b8dc"/><stop offset="0.45" stop-color="#5e9fca"/><stop offset="1" stop-color="#4888bc"/></linearGradient>
<linearGradient id="gocard" x1="0" y1="0" x2="1" y2="0.3"><stop offset="0" stop-color="#e68e40"/><stop offset="0.5" stop-color="#e2893b"/><stop offset="0.75" stop-color="#e8984a"/><stop offset="1" stop-color="#eca452"/></linearGradient>
<linearGradient id="gobox" x1="0" y1="0" x2="1" y2="1"><stop offset="0" stop-color="#f2a455"/><stop offset="0.6" stop-color="#e98a3e"/><stop offset="1" stop-color="#e27c32"/></linearGradient>
<linearGradient id="gbub" x1="0" y1="0" x2="0" y2="1"><stop offset="0" stop-color="#f4f6f8"/><stop offset="0.6" stop-color="#dbe3ec"/><stop offset="1" stop-color="#c2d3e7"/></linearGradient>
<linearGradient id="gtail" x1="0" y1="0" x2="1" y2="1"><stop offset="0" stop-color="#d3dfec"/><stop offset="1" stop-color="#b7cce4"/></linearGradient>
<linearGradient id="gholdR" x1="0" y1="0" x2="1" y2="1"><stop offset="0" stop-color="#3c7bb0"/><stop offset="1" stop-color="#3874a8"/></linearGradient>
<linearGradient id="gboxF" x1="0" y1="0" x2="1" y2="1"><stop offset="0" stop-color="#c0d5ea"/><stop offset="1" stop-color="#a9c3e0"/></linearGradient>
<filter id="shad" x="-20%" y="-20%" width="140%" height="140%"><feGaussianBlur stdDeviation="4"/></filter>
</defs>
<!-- vertical lines -->
<line x1="1077" y1="186" x2="1077" y2="269" stroke="#2a2a2a" stroke-width="2"/>
<line x1="1077" y1="523" x2="1077" y2="605" stroke="#2a2a2a" stroke-width="2"/>

<!-- soft shadows -->
<path d="M850 418 L975 350 L1160 400 L1320 475 L1195 548 L1000 482 Z" fill="#000" opacity="0.07" filter="url(#shad)"/>

<!-- BLUE CARD -->
<path d="M990 470 L1104 383 Q1110 379 1118 382 L1306 458 Q1322 466 1308 475 L1203 536 Q1193 542 1182 538 Z" fill="url(#gbcard)" stroke="#2c5f8e" stroke-width="1.5"/>
<path d="M1183 538 Q1193 542 1203 536 L1308 475 Q1315 470 1314 466" fill="none" stroke="#24507a" stroke-width="2.2"/>
<!-- blue card marks -->
<g fill="none" stroke="#e6f1fa" stroke-width="2.4" stroke-linecap="round">
<path d="M1131 455 l3 1.2 M1138 457.5 l4 1.5 M1146 460.5 l5 1.8"/>
</g>
<path d="M1152 471 L1171 462 L1190 469 L1173 479 Z" fill="#7fb0dc" stroke="#dcebf8" stroke-width="1.6" stroke-linejoin="round"/>
<path d="M1170 466 l5 5 l5 -3 M1172 477 l8 -6" stroke="#eef5fb" stroke-width="2" fill="none"/>
<text transform="translate(1155.5,512) rotate(-30) skewX(42)" font-size="16" font-weight="700" fill="#e6f2fb" stroke="#e6f2fb" stroke-width="0.5" letter-spacing="2">CODEIHTES</text>
<ellipse cx="1226" cy="491.5" rx="17" ry="9" transform="rotate(-18 1226 491.5)" fill="none" stroke="#e6f2fb" stroke-width="2"/>
<path d="M1222 494 l6 -5 l2 5z" fill="#e6f2fb"/>

<!-- ORANGE CARD -->
<path d="M850 403 L962 339 Q970 334 980 337 L1160 421 L1006 468 Q999 471 990 468 L852 419 Q840 412 850 403 Z" fill="url(#gocard)" stroke="#9b5420" stroke-width="1.5"/>
<path d="M852 419 L990 468 Q999 471 1006 468 L1160 421" fill="none" stroke="#8a4818" stroke-width="2"/>
<text transform="translate(919,424.5) rotate(-29) skewX(46)" font-size="22" font-weight="700" fill="#fbf1e0" stroke="#fbf1e0" stroke-width="0.6" letter-spacing="2">PEEATS!</text>
<g fill="none" stroke="#fbf1e0" stroke-width="2" stroke-linecap="round">
<path d="M912 392 l20 -8 M918 382 l3 10 M926 378 l2 11 M914 396 l22 -4"/>
<path d="M976 412 l14 -7 M982 404 l3 8"/>
</g>

<!-- BOTTOM BOX -->
<path d="M919 478 L936 469 L1031 498 L1015 507 Z" fill="#8fb0d2" stroke="#3a5a7c" stroke-width="1.4"/>
<path d="M1015 507 L1031 498 L1031 583 Q1031 587 1027 589 L1018 593 Q1015 594 1015 590 Z" fill="#7d9ec6" stroke="#3a5a7c" stroke-width="1.4"/>
<path d="M923 479 L1011 506 Q1015 507 1015 511 L1015 588 Q1015 593 1010 592 L923 563 Q919 562 919 558 L919 483 Q919 478 923 479 Z" fill="url(#gboxF)" stroke="#3a5a7c" stroke-width="1.4"/>
<!-- bubble outline inside box -->
<path d="M935 541 Q922 524 938 514 Q958 503 985 513 Q1004 521 1003 541 Q1002 553 990 560 L1004 576 L982 565 Q960 566 946 556 L925 553 L938 545" fill="none" stroke="#2c3e52" stroke-width="1.5" stroke-linejoin="round"/>
<text transform="translate(940,535.5) rotate(12.5) scale(0.92,1.08)" font-size="16" font-weight="700" fill="#34495e" letter-spacing="0.2">BLOAS</text>
<g fill="#d98a70" opacity="0.9"><circle cx="960" cy="530" r="4.5"/><circle cx="968" cy="523" r="3"/><circle cx="956" cy="544" r="2.5"/><circle cx="974" cy="526" r="2.2"/></g>
<circle cx="961" cy="532" r="2.5" fill="#f4e6de"/>
<path d="M988 519 l3 -6 M993 521 l1 -5" stroke="#34495e" stroke-width="1.3"/>
<!-- tail from box to card -->
<path d="M966 483 L1038 451 L1047 453.5 L1049 460 L999 487 Z" fill="#e4edf6" stroke="#34506e" stroke-width="1.3" stroke-linejoin="round"/>

<!-- HOLDER -->
<!-- left wall (inner face) -->
<path d="M998 384 L1075 407 L1075 412 L998 450 Z" fill="#3874aa" stroke="#1a4670" stroke-width="1.5" stroke-linejoin="round"/>
<path d="M998.5 384 L1003 385.5 L1003 447.5 L998.5 450 Z" fill="#2a5e90" stroke="#1a4670" stroke-width="0.8"/>
<path d="M1025.3 393.2 Q1024.8 405 1027.5 411.5 Q1029.5 416 1034 413 L1050 402" fill="none" stroke="#f2f7fc" stroke-width="2.4" stroke-linecap="round"/>
<path d="M1030.5 396.6 L1038.5 397.4 L1033 401.2 Z" fill="#f2f7fc"/>
<!-- right wall -->
<path d="M1072 407 L1076 405 L1076 476 L1072 477 Z" fill="#285a88"/>
<path d="M1076 406 L1158 361 Q1163 359 1163 364 L1163 425 Q1163 428 1160 430 L1080 474 Q1076 476 1076 472 Z" fill="url(#gholdR)" stroke="#1a4670" stroke-width="1.5"/>
<ellipse cx="1121.5" cy="417" rx="12.5" ry="20" transform="rotate(-15 1121.5 417)" fill="none" stroke="#f2f7fc" stroke-width="2.2" stroke-dasharray="44 6 38 6"/>
<g stroke="#f2f7fc" stroke-width="2.6" stroke-linecap="round"><path d="M1116 412 l11 -5 M1116 419 l11 -5 M1116 426 l11 -5"/></g>
<!-- top slab -->
<path d="M999 382 L1085 337 L1162 360 L1076 405 Z" fill="#4686bc" stroke="#1a4670" stroke-width="1.5" stroke-linejoin="round"/>
<path d="M999 382 L1076 405 L1076 409 L999 386 Z" fill="#5a98c8" stroke="#1a4670" stroke-width="1"/>
<path d="M1076 405 L1162 360 L1162 364 L1076 409 Z" fill="#3c7cb2" stroke="#1a4670" stroke-width="1"/>

<!-- MONEY STACK -->
<g stroke="#2f5a32" stroke-width="1.3" stroke-linejoin="round">
<path d="M1007 331 L1068 357 L1141 328 L1141 366 L1073 397 L1007 375 Z" fill="#7aae72"/>
</g>
<g fill="none" stroke="#2c5a30" stroke-width="1.6">
<path d="M1007 337 L1069 362 L1141 333"/>
<path d="M1007 342.5 L1069.5 367.5 L1141 338"/>
<path d="M1007 348 L1070 373 L1141 343"/>
<path d="M1007 353.5 L1070.5 378.5 L1141 348"/>
<path d="M1007 359 L1071 384 L1141 353"/>
<path d="M1007 364.5 L1071.5 389 L1141 358"/>
<path d="M1007 370 L1072 393.5 L1141 362.5"/>
</g>
<g fill="none" stroke="#a8d2a0" stroke-width="1.2" opacity="0.8">
<path d="M1008 339.5 L1069 364.5 L1140 335.5"/>
<path d="M1008 350.5 L1070 375.5 L1140 345.5"/>
<path d="M1008 361.5 L1071 386.5 L1140 355.5"/>
</g>
<path d="M1007 331 L1078 290 L1141 328 L1068 357 Z" fill="#a2c99a" stroke="#2f5a32" stroke-width="1.4" stroke-linejoin="round"/>
<path d="M1022 330.5 L1078 298 L1129 328 L1069 349.5 Z" fill="#a8cf9f" stroke="#3f7444" stroke-width="1.2" stroke-linejoin="round"/>
<ellipse cx="1063" cy="329.5" rx="20" ry="9.5" transform="rotate(-4 1063 329.5)" fill="#b0d4a6" stroke="#3a6e3e" stroke-width="1.5"/>
<path d="M1051 329 q1 -5 9 -5 q7 0 8 4 l-3 1 l3 2 q-2 4 -8 4 q-8 0 -9 -6z" fill="#4a7d4c"/>
<path d="M1064 302 q8 -6 17 -3 q-2 6 -10 7 q-5 0 -7 -4z" fill="#4a7d4c"/>

<!-- FEE ATM BUBBLE -->
<path d="M931 220.5 L1002 220.5 Q1014 220.5 1014 232.5 L1014 289 L1040 309 L1006 330 L964 300.3 L931 300.3 Q919 300.3 919 288.3 L919 232.5 Q919 220.5 931 220.5 Z" fill="url(#gbub)" stroke="#3a424c" stroke-width="1.5" stroke-linejoin="round"/>
<g font-size="21.5" fill="#2e3a46" stroke="#2e3a46" stroke-width="0.35">
<text x="929" y="256.5" letter-spacing="-1">FEE</text>
<text x="928.5" y="280" letter-spacing="-0.2">ATM</text>
</g>
<rect x="982" y="243" width="18.5" height="32" fill="#e6ecf2" stroke="#2e3a46" stroke-width="1.4"/>
<path d="M975.5 255 q2 -2 6 -0.5 q9 -2 18 -1 q4 -2 6.5 0 q-3 2.5 -6.5 1.5 q-4 7.5 -11 8 q-7 0 -8 -6.5 q-3 1 -5 -1.5z" fill="#56626c" stroke="#2e3a46" stroke-width="1"/>
<path d="M988 254 q4 2 8 0" stroke="#c8d2dc" stroke-width="1.2" fill="none"/>
<rect x="989.5" y="275" width="3.5" height="3" fill="#2e3a46"/>

<!-- ORANGE SPEECH BOX -->
<path d="M1142 198.5 L1254 208 Q1260.5 209 1260.5 215 L1260.5 326 Q1260.5 332 1254 332 L1145 332.5 L1083 319.5 L1137 288 L1137 204 Q1137 198 1142 198.5 Z" fill="#c56a28"/>
<path d="M1141 201 L1252 210.5 Q1258 211 1258 217 L1258 326 Q1258 331 1252 331 L1145 332 L1081 319.5 L1136.5 288 L1136.5 206 Q1136.5 200.5 1141 201 Z" fill="url(#gobox)" stroke="#a85a22" stroke-width="1.3" stroke-linejoin="round"/>
<path d="M1145 332 L1187 314" stroke="#a85a22" stroke-width="1.2" fill="none"/>
<path d="M1161 220.5 L1232 227 Q1240 228 1240 236 L1240.5 303 Q1240.5 311 1232.5 310.8 L1161.5 308 Q1153.5 307.8 1153.5 299.8 L1153 228.5 Q1153 220 1161 220.5 Z" fill="none" stroke="#fdf0da" stroke-width="2.4"/>
<g fill="none" stroke="#a8602c" stroke-width="3.8" opacity="0.55">
<path d="M1182 256.5 A17.5 17.5 0 0 1 1211 257.5"/>
<path d="M1182 273.5 A17.5 17.5 0 0 0 1211 272.5"/>
<circle cx="1180.5" cy="265" r="6.2"/>
<circle cx="1196.3" cy="265" r="6.2"/>
<circle cx="1212" cy="265" r="6.2"/>
</g>
<g fill="none" stroke="#fdf0da" stroke-width="2.5">
<path d="M1182 256.5 A17.5 17.5 0 0 1 1211 257.5"/>
<path d="M1182 273.5 A17.5 17.5 0 0 0 1211 272.5"/>
<circle cx="1180.5" cy="265" r="6.2"/>
<circle cx="1196.3" cy="265" r="6.2"/>
<circle cx="1212" cy="265" r="6.2"/>
</g>
<path d="M1211.5 298 Q1216 292 1225.8 294" fill="none" stroke="#a85a22" stroke-width="1.1"/>
<path d="M1225 294 Q1237.5 296 1241.5 305.5 Q1244 312 1243.7 318.6 L1255 320.8 L1241 331.6 L1224.5 330.6 L1213.6 315.8 L1227.9 316.2 Q1229.3 306 1225 294 Z" fill="#f5e8dc" stroke="#8e4c1e" stroke-width="1.1" stroke-linejoin="round"/>

</svg>
</body></html>
